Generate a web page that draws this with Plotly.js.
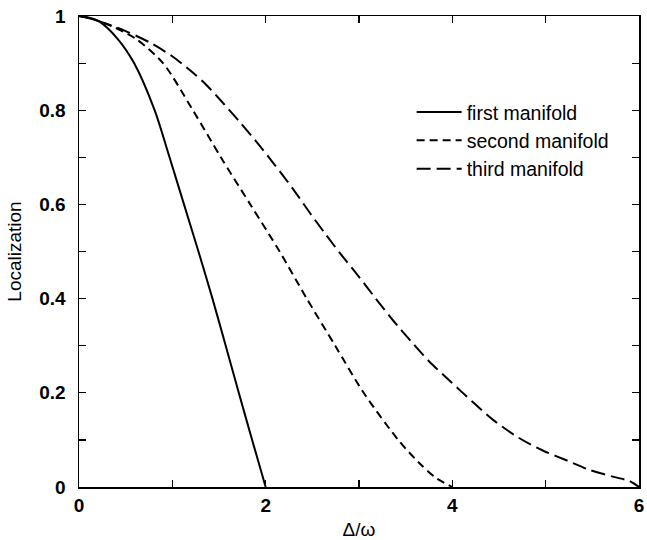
<!DOCTYPE html>
<html>
<head>
<meta charset="utf-8">
<script src="https://cdn.plot.ly/plotly-3.0.1.min.js"></script>
<style>html,body{margin:0;padding:0;background:#fff;}#chart{width:647px;height:540px;}</style>
</head>
<body>
<div id="chart"></div>
<script>
// Series
const firstX  = [0, 0.1, 0.22, 0.42, 0.59, 0.81, 0.97, 1.125, 1.28, 1.43, 1.572, 1.712, 1.855, 2.0];
const firstY  = [1, 0.997, 0.988, 0.95, 0.9, 0.8, 0.7, 0.6, 0.5, 0.4, 0.3, 0.2, 0.1, 0];

const secondX = [0, 0.12, 0.2, 0.39, 0.62, 0.9, 1.22, 1.52, 1.835, 2.15, 2.44, 2.745, 3.05, 3.42, 3.64, 3.82, 4.0];
const secondY = [1, 0.995, 0.99, 0.975, 0.95, 0.9, 0.8, 0.7, 0.6, 0.5, 0.4, 0.3, 0.2, 0.1, 0.052, 0.02, 0];

const thirdX  = [0, 0.153, 0.5, 0.765, 0.995, 1.225, 1.378, 1.531, 1.722, 1.913, 2.105, 2.296, 2.488, 2.641, 2.794, 2.985, 3.176, 3.368, 3.559, 3.75, 3.98, 4.21, 4.44, 4.707, 4.975, 5.243, 5.473, 5.74, 5.894, 6.0];
const thirdY  = [1, 0.993, 0.968, 0.943, 0.915, 0.879, 0.851, 0.818, 0.775, 0.73, 0.682, 0.632, 0.578, 0.537, 0.497, 0.45, 0.401, 0.353, 0.309, 0.267, 0.224, 0.182, 0.142, 0.105, 0.077, 0.055, 0.036, 0.021, 0.013, 0];

const seriesNames = ["first manifold", "second manifold", "third manifold"];
const xTickVals = [0, 2, 4, 6];
const xTickText = ["0", "2", "4", "6"];
const yTickVals = [0, 0.2, 0.4, 0.6, 0.8, 1];
const yTickText = ["0", "0.2", "0.4", "0.6", "0.8", "1"];

const fontFam = "Liberation Sans, Arial, Helvetica, sans-serif";

const traces = [
  {x: firstX, y: firstY, name: seriesNames[0], mode: "lines", line: {color: "#000", width: 2, dash: "solid", shape: "spline", smoothing: 0.8}},
  {x: secondX, y: secondY, name: seriesNames[1], mode: "lines", line: {color: "#000", width: 2, dash: "8px,5px", shape: "spline", smoothing: 0.8}},
  {x: thirdX, y: thirdY, name: seriesNames[2], mode: "lines", line: {color: "#000", width: 2, dash: "14px,6px", shape: "spline", smoothing: 0.8}}
];

const axisCommon = {
  showline: true, linecolor: "#000", linewidth: 1.5, mirror: "ticks",
  ticks: "inside", ticklen: 7, tickwidth: 1.2, tickcolor: "#000",
  showgrid: false, zeroline: false, fixedrange: true, automargin: false,
  ticklabeloverflow: "allow",
  tickfont: {family: fontFam, size: 19, color: "#000", weight: "bold"}
};

const layout = {
  width: 647, height: 540,
  margin: {l: 79, r: 8, t: 16, b: 53},
  paper_bgcolor: "#fff", plot_bgcolor: "#fff",
  showlegend: true,
  legend: {
    x: 0.594, y: 0.837, xanchor: "left", yanchor: "top",
    bgcolor: "rgba(0,0,0,0)", borderwidth: 0,
    font: {family: fontFam, size: 19.5, color: "#000"},
    tracegroupgap: 0, itemwidth: 45
  },
  xaxis: Object.assign({}, axisCommon, {
    range: [0, 6.0001], tickmode: "array", tickvals: xTickVals, ticktext: xTickText,
    minor: {dtick: 1, ticks: "inside", ticklen: 7, tickwidth: 1.2, tickcolor: "#000", showgrid: false},
    ticklabelstandoff: 1,
    title: {text: "Δ/ω", font: {family: fontFam, size: 19, color: "#000"}, standoff: 8}
  }),
  yaxis: Object.assign({}, axisCommon, {
    range: [0, 1], tickmode: "array", tickvals: yTickVals, ticktext: yTickText,
    minor: {dtick: 0.1, ticks: "inside", ticklen: 7, tickwidth: 1.2, tickcolor: "#000", showgrid: false},
    ticklabelstandoff: 8,
    title: {text: "Localization", font: {family: fontFam, size: 19, color: "#000"}, standoff: 12}
  })
};

Plotly.newPlot("chart", traces, layout, {displayModeBar: false, staticPlot: true});
</script>
</body>
</html>
